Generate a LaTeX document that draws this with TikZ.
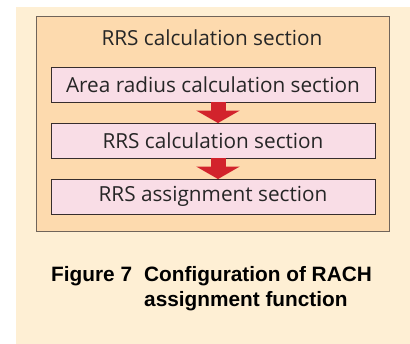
\documentclass[tikz,border=0pt]{standalone}
\usepackage{fontspec}
\setmainfont{Open Sans}
\newfontfamily\capfont{Liberation Sans}
\usetikzlibrary{arrows.meta}
\definecolor{panelbg}{RGB}{254,239,212}
\definecolor{outerfill}{RGB}{253,218,174}
\definecolor{outerline}{RGB}{112,100,90}
\definecolor{innerfill}{RGB}{249,221,230}
\definecolor{innerline}{RGB}{55,45,45}
\definecolor{flowred}{RGB}{210,35,44}
\begin{document}
\begin{tikzpicture}[
    x=1pt, y=-1pt,
    every node/.style={font=\fontsize{20.75}{24}\selectfont, text=black!85, inner sep=0pt},
    sectionbox/.style={draw=innerline, line width=0.9pt, fill=innerfill, minimum width=324pt, minimum height=35pt},
    flowarrow/.style={flowred, line width=15pt, -{Triangle[width=43pt, length=12.5pt]}, shorten >=-0.5pt}
]
\useasboundingbox (0,0) rectangle (410,344);
\fill[panelbg] (16,7) rectangle (410,344);
\node[draw=outerline, line width=1pt, fill=outerfill, minimum width=352.5pt, minimum height=215pt] (outer) at (212.75,124.5) {};
\node (title) at (212,38) {RRS calculation section};
\node[sectionbox] (area) at (213,84.5) {Area radius calculation section};
\node[sectionbox] (rrscalc) at (213,140.5) {RRS calculation section};
\node[sectionbox] (rrsassign) at (213,196.5) {RRS assignment section};
\draw[flowarrow] ([xshift=5pt]area.south) -- ([xshift=5pt]rrscalc.north);
\draw[flowarrow] ([xshift=5pt]rrscalc.south) -- ([xshift=5pt]rrsassign.north);
\node[anchor=base west, align=left, font=\capfont\bfseries\fontsize{20.8}{25.5}\selectfont, text=black] (caption) at (51,307)
    {\makebox[93pt][l]{Figure 7}Configuration of RACH\\\hspace*{93pt}assignment function};
\end{tikzpicture}
\end{document}
